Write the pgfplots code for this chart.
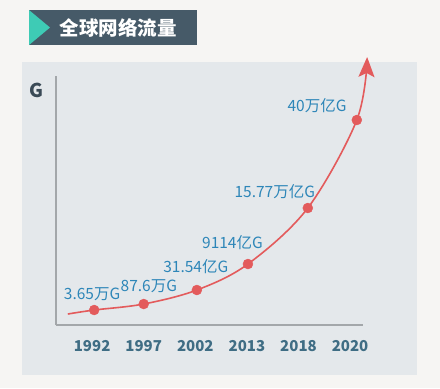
\documentclass[border=0pt]{standalone}
\usepackage{pgfplots}
\pgfplotsset{compat=1.18}
\usetikzlibrary{arrows.meta}
\usepackage{fontspec}
\setmainfont{Noto Sans CJK SC}
\definecolor{pagebg}{HTML}{F6F5F3}
\definecolor{panel}{HTML}{E4E8EB}
\definecolor{titlebar}{HTML}{465A68}
\definecolor{teal}{HTML}{3ECBB5}
\definecolor{axgray}{HTML}{A3A7AA}
\definecolor{curve}{HTML}{E35B5C}
\definecolor{lblue}{HTML}{2D86B8}
\definecolor{tickc}{HTML}{3F6D84}
\definecolor{gcol}{HTML}{3A4A56}
\begin{document}
\begin{tikzpicture}
\begin{scope}[x=1bp,y=-1bp]
\fill[pagebg] (0,0) rectangle (440,388);
\fill[panel] (22,62) rectangle (417,375);
\fill[titlebar] (29,10) rectangle (197,45);
\fill[teal] (29,10) -- (50,27.5) -- (29,45) -- cycle;
\node[text=white, font=\bfseries\fontsize{19.5bp}{21bp}\selectfont, anchor=center] at (118,27.5) {全球网络流量};
\node[text=gcol, font=\bfseries\fontsize{19bp}{20bp}\selectfont, anchor=center] at (36,90) {G};
\end{scope}
\begin{axis}[
  at={(56bp,-325bp)}, anchor=south west,
  scale only axis, width=307bp, height=249bp,
  xmin=0.3, xmax=6.25, ymin=0, ymax=249,
  axis x line=bottom, axis y line=left,
  axis line style={-, draw=axgray, line width=1.5bp},
  xtick={1,2,3,4,5,6},
  xticklabels={1992,1997,2002,2013,2018,2020},
  major tick length=0pt,
  ytick=\empty,
  xticklabel style={font=\bfseries\fontsize{15bp}{16bp}\selectfont, text=tickc, anchor=center, yshift=-21bp},
  clip=false,
]
\addplot[curve, line width=1.6bp, smooth, tension=0.55, -{Stealth[length=20bp,width=16bp,inset=4bp]}] coordinates {
  (0.53,11) (1.04,15) (2.0,21) (3.03,35) (4.02,61) (5.18,117) (6.13,205) (6.33,268)
};
\addplot[only marks, mark=*, mark size=5bp, curve, mark options={draw=curve, fill=curve}] coordinates {
  (1.04,15) (2.0,21) (3.03,35) (4.02,61) (5.18,117) (6.13,205)
};
\begin{scope}[every node/.style={text=lblue, font=\fontsize{15.5bp}{17bp}\selectfont, anchor=center}]
\node at (axis cs:1.0,31) {3.65万G};
\node at (axis cs:2.1,39) {87.6万G};
\node at (axis cs:3.01,58) {31.54亿G};
\node at (axis cs:3.72,82) {9114亿G};
\node at (axis cs:4.54,133) {15.77万亿G};
\node at (axis cs:5.36,219) {40万亿G};
\end{scope}
\end{axis}
\end{tikzpicture}
\end{document}
